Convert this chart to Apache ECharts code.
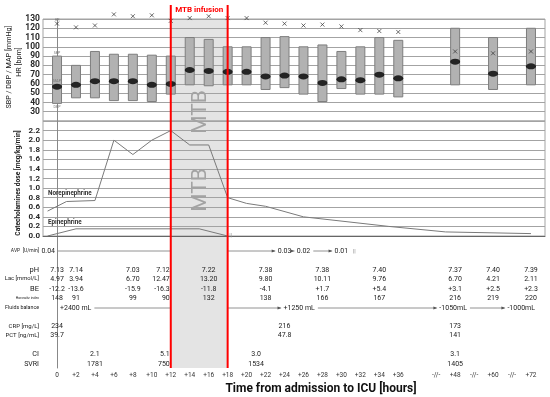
<!DOCTYPE html>
<html><head><meta charset="utf-8">
<script src="https://cdn.jsdelivr.net/npm/echarts@6/dist/echarts.min.js"></script>
<style>html,body{margin:0;padding:0;background:#fff}#c{width:550px;height:397px}</style>
</head><body><div id="c"></div>
<script>
// ---------------- DATA ----------------
const xLabels = ['0','+2','+4','+6','+8','+10','+12','+14','+16','+18','+20','+22','+24','+26','+28','+30','+32','+34','+36','','-//-','+48','-//-','+60','-//-','+72'];

const bpHours = [0,2,4,6,8,10,12,14,16,18,20,22,24,26,28,30,32,34,36,48,60,72];
const sbp  = [90,80,95,92,92,91,90,110,108,100,100,110,111,100,102,95,100,110,107,120,110,120];
const dbp  = [39,45,45,42,42,41,49,59,58,59,59,54,56,49,41,55,49,49,46,59,54,59];
const mapv = [57,59,63,63,63,59,60,75,74,73,73,68,69,68,61,65,64,70,66,84,71,79];
const hr   = [125,121,123,135,133,134,128,131,133,131,131,126,125,123,124,122,118,117,116,95,93,95];

const norHours  = [-1,1,4,6,8,10,12,14,16,18,20,22,26,35,46,72];
const norValues = [0.52,0.72,0.74,2.0,1.7,2.0,2.2,1.9,1.9,0.8,0.68,0.62,0.40,0.20,0.085,0.05];
const epiHours  = [-1,2,15,18];
const epiValues = [0,0.15,0.15,0];

const avpHours  = [0,24,26,30];
const avpValues = ['0.04','0.03','0.02','0.01'];

const labHours = [0,2,8,12,16,22,28,34,48,60,72];
const phValues  = [7.13,7.14,7.03,7.12,7.22,7.38,7.38,7.40,7.37,7.40,7.39];
const lacValues = [4.97,3.94,6.70,12.47,13.20,9.80,10.11,9.76,6.70,4.21,2.11];
const beValues  = [-12.2,-13.6,-15.9,-16.3,-11.8,-4.1,1.7,5.4,3.1,2.5,2.3];
const horowitz  = [148,91,99,90,132,138,166,167,216,219,220];

const fluidHours  = [0,24,48,72];
const fluidValues = ['+2400 mL','+1250 mL','-1050mL','-1000mL'];

const crpHours  = [0,24,48];
const crpValues = [234,216,173];
const pctValues = [39.7,47.8,141];

const ciHours    = [4,12,21,48];
const ciValues   = [2.1,5.1,3.0,3.1];
const svriValues = [1781,750,1534,1405];

const mtbStart = 12, mtbEnd = 18;

// ---------------- LAYOUT / STYLE ----------------
const FONT = 'Roboto, "Liberation Sans", sans-serif';
const XMIN = -0.74, XMAX = 25.74;
function slotOf(h){ if (h <= 36) return h/2; if (h <= 48) return 18 + (h-36)/4; return 21 + (h-48)/6; }
const mtbS = slotOf(mtbStart), mtbE = slotOf(mtbEnd);
const ROW = {avp:15, ph:34, lac:43, be:53, hi:62, fluid:72, crp:90, pct:99, ci:118, svri:128};
const VAL = 7;

const tableItems = [];
function addRowLabel(y, text, size){ tableItems.push({slot:XMIN, y, text, align:'right', dx:-4, size, weight:'normal'}); }
function addValues(y, hours, texts){
  hours.forEach((h,i)=>{
    const atStart = h === mtbStart;
    tableItems.push({slot:slotOf(h), y, text:texts[i], align: atStart?'right':'center', dx: atStart?-1:0, size:VAL});
  });
}
addRowLabel(ROW.avp,'AVP  [U/min]',5);
addRowLabel(ROW.ph,'pH',7.5);
addRowLabel(ROW.lac,'Lac [mmol/L]',5.8);
addRowLabel(ROW.be,'BE',7.5);
addRowLabel(ROW.hi,'Horowitz index',3.5);
addRowLabel(ROW.fluid,'Fluids balance',5.3);
addRowLabel(ROW.crp,'CRP [mg/L]',6);
addRowLabel(ROW.pct,'PCT [ng/mL]',6);
addRowLabel(ROW.ci,'CI',7.2);
addRowLabel(ROW.svri,'SVRI',7);

addValues(ROW.ph, labHours, phValues.map(v=>v.toFixed(2)));
addValues(ROW.lac, labHours, lacValues.map(v=>v.toFixed(2)));
addValues(ROW.be, labHours, beValues.map(v=>(v>0?'+':'')+v.toFixed(1)));
addValues(ROW.hi, labHours, horowitz.map(String));
addValues(ROW.crp, crpHours, crpValues.map(String));
addValues(ROW.pct, crpHours, pctValues.map(String));
addValues(ROW.ci, ciHours, ciValues.map(v=>v.toFixed(1)));
addValues(ROW.svri, ciHours, svriValues.map(String));

const avpItems = avpHours.map((h,i)=>({slot:slotOf(h), y:ROW.avp, text:avpValues[i], align: i===0?'right':'center', dx: i===0?-2:0, size:VAL}));
const fluidAlign = ['left','left','center','right'];
const fluidDx = [3,-1,-2,4];
const fluidItems = fluidHours.map((h,i)=>({slot:slotOf(h), y:ROW.fluid, text:fluidValues[i], align:fluidAlign[i], dx:fluidDx[i], size:VAL}));
avpItems.forEach(it=>tableItems.push(it));
fluidItems.forEach(it=>tableItems.push(it));

const tickColor = '#2a2a2a';
const gridColor = '#a3a3a3';

const option = {
  animation:false,
  textStyle:{fontFamily:FONT},
  grid:[
    {left:43, right:5, top:19, height:102, show:true, borderColor:gridColor, borderWidth:1},
    {left:43, right:5, top:121, height:115, show:true, borderColor:gridColor, borderWidth:1},
    {left:43, right:5, top:236, height:132}
  ],
  xAxis:[
    {gridIndex:0, type:'value', min:XMIN, max:XMAX, show:false},
    {gridIndex:1, type:'value', min:XMIN, max:XMAX, show:false},
    {gridIndex:2, type:'value', min:XMIN, max:XMAX,
      axisLine:{show:true, lineStyle:{color:'#666', width:1}},
      axisTick:{show:false}, splitLine:{show:false},
      axisLabel:{customValues:xLabels.map((_,i)=>i), formatter:v=>xLabels[Math.round(v)]||'', fontSize:6.5, color:'#333', margin:4, fontFamily:FONT}
    }
  ],
  yAxis:[
    {gridIndex:0, type:'value', min:20, max:130, interval:10,
      axisLine:{show:true, lineStyle:{color:'#888'}}, axisTick:{show:false},
      splitLine:{lineStyle:{color:gridColor, width:1}},
      axisLabel:{formatter:v=>v===20?'':String(v), fontSize:8.5, fontWeight:'bold', color:tickColor, margin:3, fontFamily:FONT}},
    {gridIndex:1, type:'value', min:0, max:2.4, interval:0.2,
      axisLine:{show:true, lineStyle:{color:'#888'}}, axisTick:{show:false},
      splitLine:{lineStyle:{color:gridColor, width:1}},
      axisLabel:{formatter:v=>v>2.39?'':v.toFixed(1), fontSize:8, fontWeight:'bold', color:tickColor, margin:3, fontFamily:FONT}},
    {gridIndex:2, type:'value', min:0, max:132, inverse:true,
      axisLine:{show:true, lineStyle:{color:'#888'}}, axisTick:{show:false}, axisLabel:{show:false}, splitLine:{show:false}}
  ],
  series:[
    {type:'custom', xAxisIndex:0, yAxisIndex:0, z:2,
      data: bpHours.map((h,i)=>[slotOf(h), dbp[i], sbp[i], mapv[i], hr[i]]),
      encode:{x:0, y:[1,2]},
      renderItem:(params, api)=>{
        const x = api.value(0);
        const pt = api.coord([x, api.value(2)]);
        const pb = api.coord([x, api.value(1)]);
        const children = [{type:'rect', shape:{x:pt[0]-4.5, y:pt[1], width:9, height:pb[1]-pt[1]},
          style:{fill:'#b2b2b2', stroke:'#7e7e7e', lineWidth:1}}];
        if (params.dataIndex === 0){
          const pm = api.coord([x, api.value(3)]);
          const ph = api.coord([x, api.value(4)]);
          const tiny = (t, y)=>({type:'text', x:pt[0], y, style:{text:t, font:'3.6px '+FONT, fill:'#777', textAlign:'center', align:'center', textVerticalAlign:'middle', verticalAlign:'middle'}});
          children.push(tiny('SBP', pt[1]-3), tiny('MAP', pm[1]-5.5), tiny('DBP', pb[1]+3.5), tiny('HR', ph[1]-4));
        }
        return {type:'group', children};
      }},
    {type:'scatter', xAxisIndex:0, yAxisIndex:0, z:3, symbol:'circle', symbolSize:[10,6],
      itemStyle:{color:'#000'}, data: bpHours.map((h,i)=>[slotOf(h), mapv[i]])},
    {type:'scatter', xAxisIndex:0, yAxisIndex:0, z:4, clip:false, symbol:'path://M0,0L10,10M10,0L0,10', symbolSize:4,
      itemStyle:{color:'rgba(0,0,0,0)', borderColor:'#333', borderWidth:0.9}, data: bpHours.map((h,i)=>[slotOf(h), hr[i]])},
    {type:'line', xAxisIndex:1, yAxisIndex:1, z:3, symbol:'none', lineStyle:{color:'#7a7a7a', width:1},
      data: norHours.map((h,i)=>[slotOf(h), norValues[i]])},
    {type:'line', xAxisIndex:1, yAxisIndex:1, z:3, symbol:'none', lineStyle:{color:'#7a7a7a', width:1},
      data: epiHours.map((h,i)=>[slotOf(h), epiValues[i]])},
    {type:'custom', xAxisIndex:2, yAxisIndex:2, z:5,
      data: tableItems.map(it=>[it.slot, it.y]), encode:{x:0, y:1},
      renderItem:(params, api)=>{
        const it = tableItems[params.dataIndex];
        const p = api.coord([api.value(0), api.value(1)]);
        return {type:'text', x:p[0]+it.dx, y:p[1], style:{text:it.text, font:(it.weight||'normal')+' '+it.size+'px '+FONT,
          fill:'#222', textAlign:it.align, align:it.align, textVerticalAlign:'middle', verticalAlign:'middle'}};
      }}
  ]
};

const chart = echarts.init(document.getElementById('c'), null, {renderer:'canvas'});
chart.setOption(option);

// ------------- annotations via library coordinates -------------
const px = (gi, x, y) => chart.convertToPixel({gridIndex:gi}, [x, y]);
const mctx = document.createElement('canvas').getContext('2d');
function tw(text, size, weight){ mctx.font = (weight||'normal')+' '+size+'px '+FONT; return mctx.measureText(text).width; }

const sx1 = px(2, mtbS, 0)[0], sx2 = px(2, mtbE, 0)[0];
const topY = px(0, 0, 130)[1], botY = px(2, 0, 132)[1];
const g = [];
g.push({type:'rect', z:-1, silent:true, shape:{x:sx1, y:topY, width:sx2-sx1, height:botY-topY}, style:{fill:'#e4e4e4'}});

function extents(items){
  return items.map(it=>{
    const p = px(2, it.slot, it.y); const x = p[0]+it.dx; const w = tw(it.text, it.size);
    const l = it.align==='left'?x:(it.align==='right'?x-w:x-w/2);
    return {l, r:l+w, y:p[1]};
  });
}
function arrow(a, b, y, head){
  g.push({type:'line', z:1, silent:true, shape:{x1:a, y1:y, x2:b, y2:y}, style:{stroke:'#777', lineWidth:0.8}});
  if (head) g.push({type:'polygon', z:1, silent:true, shape:{points:[[b+1,y],[b-3,y-1.6],[b-3,y+1.6]]}, style:{fill:'#555'}});
}
function arrowRow(items){
  const ex = extents(items);
  for (let i=0;i<ex.length-1;i++){
    const a = ex[i].r+3, b = ex[i+1].l-3, y = ex[i].y;
    if (a < sx1 && b > sx2){ arrow(a, sx1, y, false); arrow(sx2, b, y, true); }
    else arrow(a, b, y, true);
  }
  return ex;
}
arrowRow(fluidItems);
const avEx = arrowRow(avpItems);
const lastA = avEx[avEx.length-1];
g.push({type:'text', z:5, x:lastA.r+6, y:lastA.y, style:{text:'||', font:'6px '+FONT, fill:'#888', textAlign:'center', align:'center', textVerticalAlign:'middle', verticalAlign:'middle'}});

// epinephrine end mark
const ee = px(1, slotOf(epiHours[epiHours.length-1]), 0);
g.push({type:'text', z:5, x:ee[0]+3, y:ee[1]-1, style:{text:'||', font:'6px '+FONT, fill:'#999', textAlign:'center', align:'center', textVerticalAlign:'middle', verticalAlign:'middle'}});

// red lines + label
[sx1, sx2].forEach(x=>g.push({type:'line', z:20, silent:true, shape:{x1:x, y1:5, x2:x, y2:botY}, style:{stroke:'#ff0000', lineWidth:2}}));
const cx = (sx1+sx2)/2;
g.push({type:'text', z:20, x:cx, y:10, style:{text:'MTB infusion', font:'bold 8px '+FONT, fill:'#ff0000', textAlign:'center', align:'center', textVerticalAlign:'middle', verticalAlign:'middle'}});
// MTB watermark texts
[112, 190].forEach(y=>g.push({type:'text', z:2, x:cx+2, y, rotation:Math.PI/2, style:{text:'MTB', font:'21px '+FONT, fill:'#a3a3a3', textAlign:'center', align:'center', textVerticalAlign:'middle', verticalAlign:'middle'}}));

// drug labels
g.push({type:'text', z:5, x:48, y:193, style:{text:'Norepinephrine', font:'bold 6.3px '+FONT, fill:'#333', textVerticalAlign:'middle', verticalAlign:'middle'}});
g.push({type:'text', z:5, x:48, y:222, style:{text:'Epinephrine', font:'bold 6.3px '+FONT, fill:'#333', textVerticalAlign:'middle', verticalAlign:'middle'}});

// axis names
const rot = (t, x, y, font)=>({type:'text', z:5, x, y, rotation:Math.PI/2, style:{text:t, font, fill:'#222', textAlign:'center', align:'center', textVerticalAlign:'middle', verticalAlign:'middle'}});
g.push(rot('SBP / DBP / MAP [mmHg]', 9, 67, '7.2px '+FONT));
g.push(rot('HR [bpm]', 19, 62, '7.2px '+FONT));
g.push(rot('Catecholamines dose [mcg/kg/min]', 18, 183, 'bold 6.6px '+FONT));
g.push({type:'text', z:5, x:321, y:389, style:{text:'Time from admission to ICU [hours]', font:'bold 12px '+FONT, fill:'#111', textAlign:'center', align:'center', textVerticalAlign:'middle', verticalAlign:'middle'}});

chart.setOption({graphic:{elements:g}});
</script>
</body></html>
